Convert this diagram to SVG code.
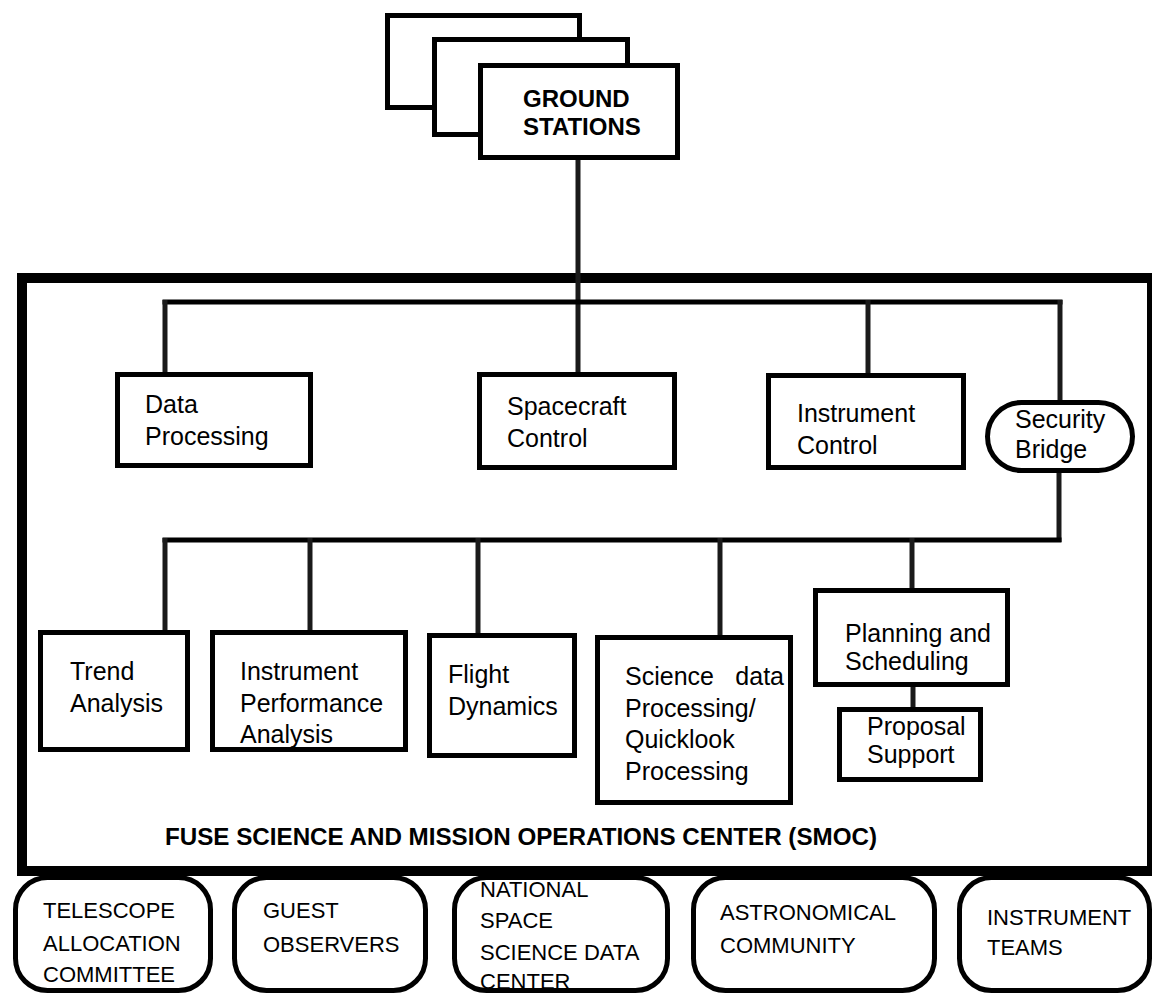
<svg xmlns="http://www.w3.org/2000/svg" width="1153" height="995" viewBox="0 0 1153 995">
<style>
.box{fill:#fff;stroke:#000;stroke-width:5}
.rbox{fill:#fff;stroke:#000;stroke-width:5}
.ln{stroke:#000;fill:none}
.v{stroke:#1a1a1a;stroke-width:5;fill:none}
.h{stroke:#000;stroke-width:5;fill:none}
.t{font-family:"Liberation Sans",Arial,sans-serif;font-size:25px;fill:#000}
.tb{font-family:"Liberation Sans",Arial,sans-serif;font-size:22px;fill:#000}
.gs{font-family:"Liberation Sans",Arial,sans-serif;font-size:24px;font-weight:bold;fill:#000}
.smoc{font-family:"Liberation Sans",Arial,sans-serif;font-size:23px;font-weight:bold;fill:#000}
</style>
<rect width="1153" height="995" fill="#fff"/>

<g id="smoc-frame">
<line class="ln" x1="17" y1="278" x2="1152" y2="278" stroke-width="10"/>
<line class="ln" x1="22" y1="273" x2="22" y2="876" stroke-width="10" stroke="#1a1a1a"/>
<line class="ln" x1="17" y1="871" x2="1152" y2="871" stroke-width="10"/>
<line class="ln" x1="1149.5" y1="273" x2="1149.5" y2="876" stroke-width="5" stroke="#1a1a1a"/>
<text class="smoc" x="165" y="845" textLength="712" lengthAdjust="spacingAndGlyphs">FUSE SCIENCE AND MISSION OPERATIONS CENTER (SMOC)</text>
</g>

<g id="connectors">
<line class="v" x1="578" y1="158" x2="578" y2="375"/>
<line class="h" x1="162.5" y1="302" x2="1062.5" y2="302"/>
<line class="v" x1="165" y1="300" x2="165" y2="375"/>
<line class="v" x1="868" y1="300" x2="868" y2="375"/>
<line class="v" x1="1060" y1="300" x2="1060" y2="403"/>
<line class="v" x1="1059" y1="470" x2="1059" y2="542"/>
<line class="h" x1="162.5" y1="540" x2="1061.5" y2="540"/>
<line class="v" x1="165" y1="538" x2="165" y2="633"/>
<line class="v" x1="310" y1="538" x2="310" y2="633"/>
<line class="v" x1="478" y1="538" x2="478" y2="635"/>
<line class="v" x1="720" y1="538" x2="720" y2="638"/>
<line class="v" x1="912" y1="538" x2="912" y2="591"/>
<line class="v" x1="913" y1="684" x2="913" y2="710"/>
</g>

<g id="ground-stations">
<rect class="box" x="387.5" y="15.5" width="192" height="92"/>
<rect class="box" x="434.5" y="39.5" width="193" height="95"/>
<rect class="box" x="480.5" y="65.5" width="197" height="92"/>
<text class="gs" x="523" y="107">GROUND</text>
<text class="gs" x="523" y="135">STATIONS</text>
</g>

<g id="data-processing">
<rect class="box" x="117.5" y="374.5" width="193" height="91"/>
<text class="t" x="145" y="413">Data</text>
<text class="t" x="145" y="445">Processing</text>
</g>

<g id="spacecraft-control">
<rect class="box" x="479.5" y="374.5" width="195" height="93"/>
<text class="t" x="507" y="415">Spacecraft</text>
<text class="t" x="507" y="447">Control</text>
</g>

<g id="instrument-control">
<rect class="box" x="768.5" y="375.5" width="195" height="92"/>
<text class="t" x="797" y="422">Instrument</text>
<text class="t" x="797" y="454">Control</text>
</g>

<g id="security-bridge">
<rect class="rbox" x="987.5" y="402.5" width="145" height="68" rx="34" ry="34"/>
<text class="t" x="1015" y="428">Security</text>
<text class="t" x="1015" y="458">Bridge</text>
</g>

<g id="trend-analysis">
<rect class="box" x="40.5" y="632.5" width="147" height="117"/>
<text class="t" x="70" y="680">Trend</text>
<text class="t" x="70" y="712">Analysis</text>
</g>

<g id="instrument-performance-analysis">
<rect class="box" x="212.5" y="632.5" width="193" height="117"/>
<text class="t" x="240" y="680">Instrument</text>
<text class="t" x="240" y="712">Performance</text>
<text class="t" x="240" y="743">Analysis</text>
</g>

<g id="flight-dynamics">
<rect class="box" x="429.5" y="635.5" width="145" height="120"/>
<text class="t" x="448" y="683">Flight</text>
<text class="t" x="448" y="715">Dynamics</text>
</g>

<g id="science-data-processing">
<rect class="box" x="597.5" y="637.5" width="193" height="165"/>
<text class="t" x="625" y="685">Science</text>
<text class="t" x="784" y="685" text-anchor="end">data</text>
<text class="t" x="625" y="717">Processing/</text>
<text class="t" x="625" y="748">Quicklook</text>
<text class="t" x="625" y="780">Processing</text>
</g>

<g id="planning-scheduling">
<rect class="box" x="815.5" y="590.5" width="192" height="94"/>
<text class="t" x="845" y="642">Planning and</text>
<text class="t" x="845" y="670">Scheduling</text>
</g>

<g id="proposal-support">
<rect class="box" x="839.5" y="709.5" width="141" height="70"/>
<text class="t" x="867" y="735">Proposal</text>
<text class="t" x="867" y="763">Support</text>
</g>

<g id="telescope-allocation-committee">
<rect class="rbox" x="15.5" y="877.5" width="195" height="113" rx="32" ry="32"/>
<text class="tb" x="43" y="918">TELESCOPE</text>
<text class="tb" x="43" y="951">ALLOCATION</text>
<text class="tb" x="43" y="982">COMMITTEE</text>
</g>

<g id="guest-observers">
<rect class="rbox" x="234.5" y="877.5" width="191" height="113" rx="32" ry="32"/>
<text class="tb" x="263" y="918">GUEST</text>
<text class="tb" x="263" y="952">OBSERVERS</text>
</g>

<g id="nssdc">
<rect x="454.5" y="877.5" width="213" height="113" rx="32" ry="32" fill="#fff"/>
<text class="tb" x="480" y="897">NATIONAL</text>
<text class="tb" x="480" y="928">SPACE</text>
<text class="tb" x="480" y="960">SCIENCE DATA</text>
<text class="tb" x="480" y="989">CENTER</text>
<rect x="454.5" y="877.5" width="213" height="113" rx="32" ry="32" fill="none" stroke="#000" stroke-width="5"/>
</g>

<g id="astronomical-community">
<rect class="rbox" x="693.5" y="877.5" width="241" height="113" rx="32" ry="32"/>
<text class="tb" x="720" y="920">ASTRONOMICAL</text>
<text class="tb" x="720" y="953">COMMUNITY</text>
</g>

<g id="instrument-teams">
<rect class="rbox" x="959.5" y="877.5" width="190" height="113" rx="32" ry="32"/>
<text class="tb" x="987" y="925">INSTRUMENT</text>
<text class="tb" x="987" y="955">TEAMS</text>
</g>
</svg>
